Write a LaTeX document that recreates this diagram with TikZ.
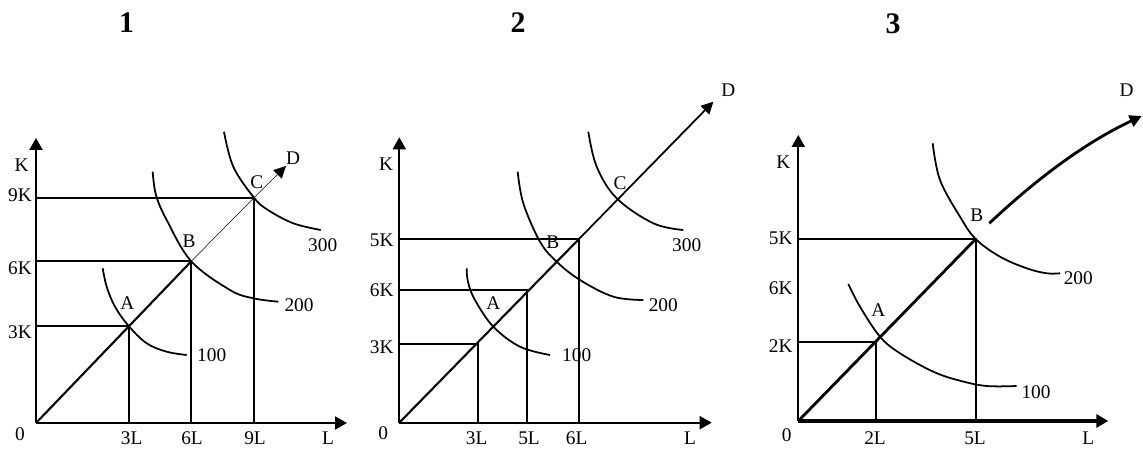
\documentclass[tikz,border=0pt]{standalone}
\usepackage{fontspec}
\setmainfont{Liberation Serif}
\usetikzlibrary{arrows.meta}
\tikzset{
  axis/.style={line width=1.1pt, -{Triangle[length=2.4mm,width=2.6mm]}},
  guide/.style={line width=1pt},
  isoq/.style={line width=1pt, smooth, tension=0.6},
  ray/.style={line width=#1},
  tip/.style={-{Triangle[length=2.4mm,width=2.4mm]}},
  lbl/.style={inner sep=0pt, font=\fontsize{11}{13}\selectfont},
  paneltitle/.style={inner sep=0pt, font=\fontsize{17}{20}\selectfont\bfseries},
}

\begin{document}
\begin{tikzpicture}[x=0.02cm, y=-0.02cm]
\useasboundingbox (0,0) rectangle (1143,449);

% titles
\node[paneltitle] (t1) at (126.5,23) {1};
\node[paneltitle] (t2) at (518,23) {2};
\node[paneltitle] (t3) at (893,24) {3};

% ---- panel 1 ----
\coordinate (O1) at (36,423);
\coordinate (K1) at (36,138);
\coordinate (L1) at (347,423);
\coordinate (A1) at (128.7,326);
\coordinate (B1) at (191.3,261.3);
\coordinate (C1) at (254,197.7);
\coordinate (D1) at (286,166);
\draw[axis] (O1) -- (K1);
\draw[axis] (O1) -- (L1);
\foreach \p in {A1,B1,C1} {
  \draw[guide] (O1 |- \p) -- (\p) -- (\p |- O1);
}
\draw[ray=1.2pt] (O1) -- (B1);
\draw[ray=0.3pt] (B1) -- (C1);
\draw[ray=0.3pt, tip] (C1) -- (D1);
\draw[isoq] plot coordinates {(102.7,268.3) (106.7,286.7) (115,306.7) (128.7,326) (146.7,343.3) (166.7,351.7) (186.7,355)};
\draw[isoq] plot coordinates {(152.7,171.7) (156,195) (166.7,220) (191.3,261.3) (230,290) (253.3,298.3) (278.3,301.7)};
\draw[isoq] plot coordinates {(224,131.7) (233.3,166.7) (254,197.7) (268,210) (293.3,223.3) (320.7,230)};
\node[lbl] (k1) at (21.7,165) {K};
\node[lbl] (k1c) at (20,195) {9K};
\node[lbl] (k1b) at (20,268) {6K};
\node[lbl] (k1a) at (20,332) {3K};
\node[lbl] (z1) at (20,434) {0};
\node[lbl] (l1a) at (131.7,438) {3L};
\node[lbl] (l1b) at (192,438) {6L};
\node[lbl] (l1c) at (255,438) {9L};
\node[lbl] (l1) at (328,438) {L};
\node[lbl] (a1) at (127.3,303.3) {A};
\node[lbl] (b1) at (189,241.7) {B};
\node[lbl] (c1) at (256.7,181.7) {C};
\node[lbl] (d1) at (293,158) {D};
\node[lbl] (q1a) at (211.7,355) {100};
\node[lbl] (q1b) at (299,305) {200};
\node[lbl] (q1c) at (322.7,245) {300};

% ---- panel 2 ----
\coordinate (O2) at (399.3,422.7);
\coordinate (K2) at (399.3,137.3);
\coordinate (L2) at (711.7,422.7);
\coordinate (A2) at (478,344);
\coordinate (B2) at (527.3,290);
\coordinate (C2) at (579,239);
\coordinate (D2) at (713.3,101.7);
\draw[axis] (O2) -- (K2);
\draw[axis] (O2) -- (L2);
\foreach \p in {A2,B2,C2} {
  \draw[guide] (O2 |- \p) -- (\p) -- (\p |- O2);
}
\draw[ray=1.2pt] (O2) -- (C2);
\draw[ray=1pt, tip] (C2) -- (D2);
\draw[isoq] plot coordinates {(466.7,268.3) (468,282) (475,300) (493.3,326.7) (520,346.7) (550,355)};
\draw[isoq] plot coordinates {(517.7,171.7) (523.3,203.3) (540,241.7) (556.7,261.7) (580,280) (613.3,296.7) (643.3,300)};
\draw[isoq] plot coordinates {(588.3,131.7) (596.7,166.7) (616.7,198.3) (653.3,223.3) (683.3,230)};
\node[lbl] (k2) at (386,164.3) {K};
\node[lbl] (k2c) at (381.7,240) {5K};
\node[lbl] (k2b) at (381.7,290) {6K};
\node[lbl] (k2a) at (381.7,347.3) {3K};
\node[lbl] (z2) at (383.3,433.3) {0};
\node[lbl] (l2a) at (476.7,438) {3L};
\node[lbl] (l2b) at (529,438) {5L};
\node[lbl] (l2c) at (576.7,438) {6L};
\node[lbl] (l2) at (690,438) {L};
\node[lbl] (a2) at (493.3,303.3) {A};
\node[lbl] (b2) at (552.7,242.7) {B};
\node[lbl] (c2) at (620,182.7) {C};
\node[lbl] (d2) at (728.3,90) {D};
\node[lbl] (q2a) at (576.7,355) {100};
\node[lbl] (q2b) at (663.3,305) {200};
\node[lbl] (q2c) at (686.7,245) {300};

% ---- panel 3 ----
\coordinate (O3) at (798.3,421);
\coordinate (K3) at (798.3,135);
\coordinate (L3) at (1108.3,421);
\coordinate (A3) at (875.7,341.7);
\coordinate (B3) at (975.7,239);
\coordinate (E3) at (989.3,223.3);
\coordinate (D3) at (1141.7,116);
\draw[axis] (O3) -- (K3);
\draw[axis, line width=2.2pt] (O3) -- (L3);
\foreach \p in {A3,B3} {
  \draw[guide] (O3 |- \p) -- (\p) -- (\p |- O3);
}
\draw[ray=1.6pt] (O3) -- (B3);
\draw[ray=1.6pt, tip] (E3) .. controls (1030,185) and (1080,145) .. (D3);
\draw[isoq] plot coordinates {(848.3,284) (860,306.7) (880,336.7) (900,353.3) (933.3,371.7) (960,380.7) (986.7,386) (1016.7,386)};
\draw[isoq] plot coordinates {(932.7,143.3) (940,180) (960,216.7) (975.7,239) (1000,256.7) (1026.7,268.3) (1046.7,273.3) (1060,273.3)};
\node[lbl] (k3) at (783.3,161.7) {K};
\node[lbl] (k3c) at (780.7,238.3) {5K};
\node[lbl] (k3b) at (780.7,288.3) {6K};
\node[lbl] (k3a) at (780.7,345.7) {2K};
\node[lbl] (z3) at (786.7,435) {0};
\node[lbl] (l3a) at (875,438) {2L};
\node[lbl] (l3b) at (975,438) {5L};
\node[lbl] (l3) at (1088.3,438) {L};
\node[lbl] (a3) at (878.3,310) {A};
\node[lbl] (b3) at (976.7,215) {B};
\node[lbl] (d3) at (1126.7,90) {D};
\node[lbl] (q3a) at (1036,391.7) {100};
\node[lbl] (q3b) at (1078.3,278.3) {200};
\end{tikzpicture}
\end{document}
